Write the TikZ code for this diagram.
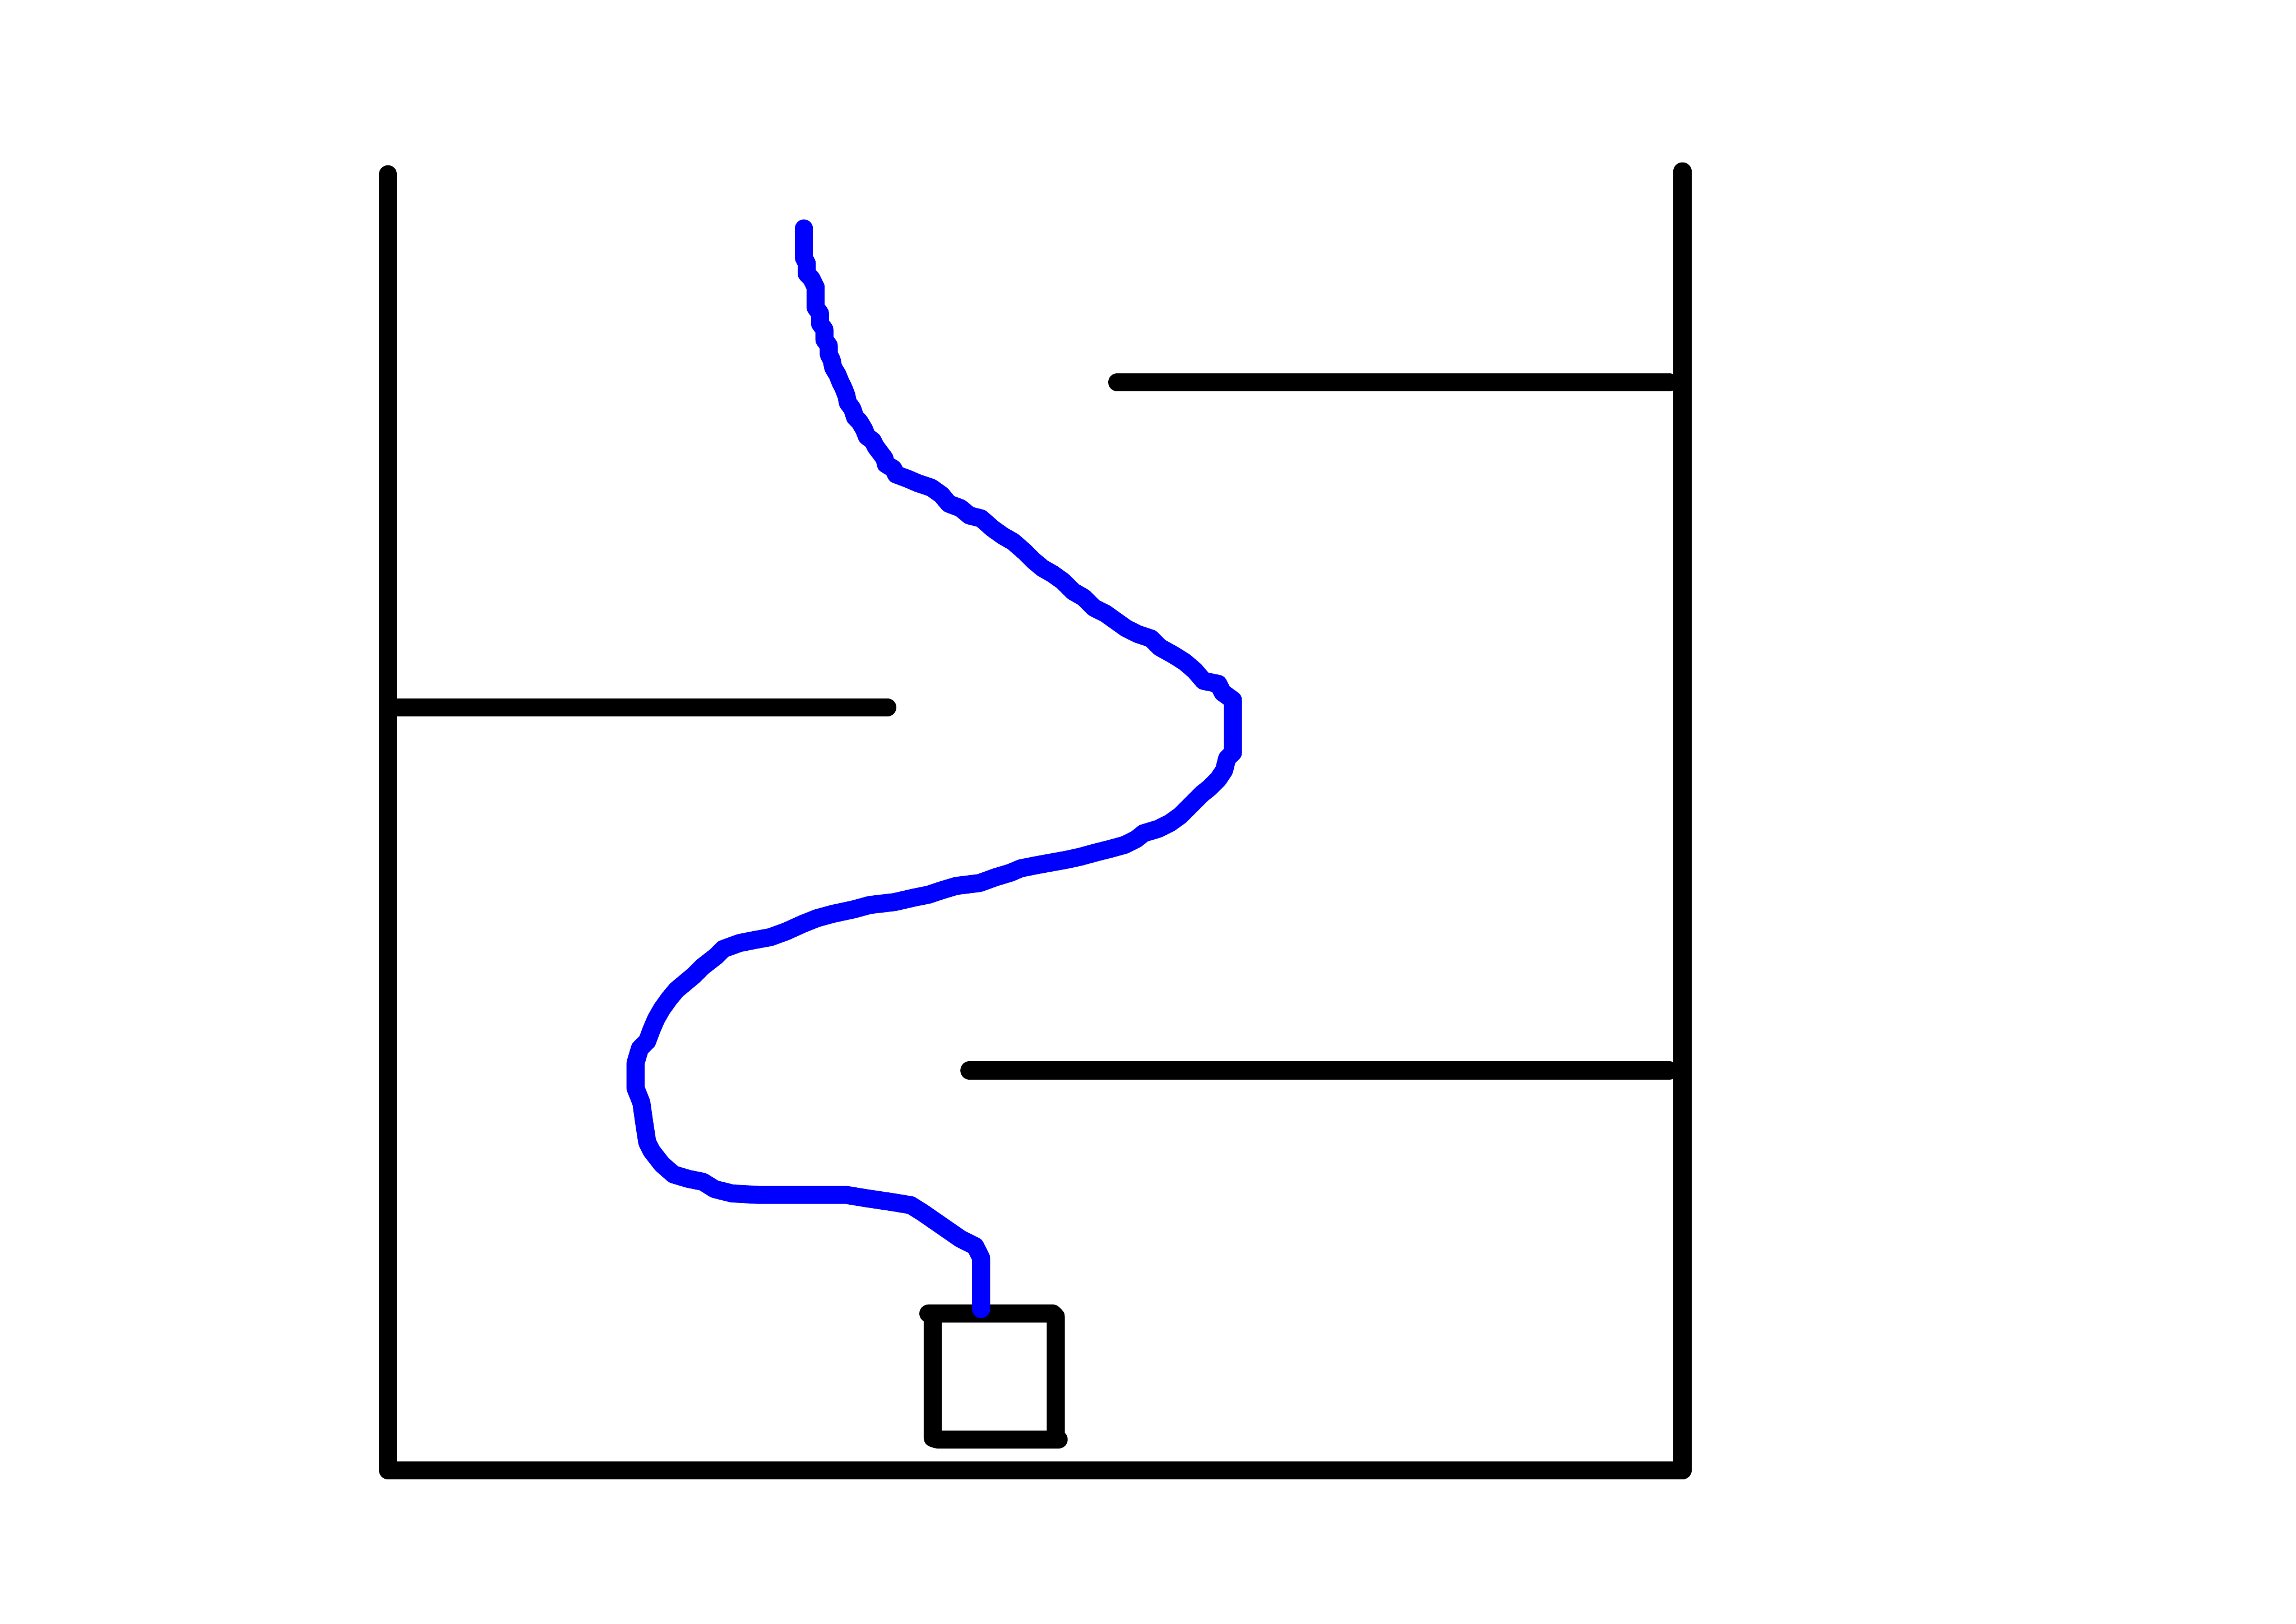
\documentclass[tikz,border=0pt]{standalone}
\usepackage{tikz}
\usepackage{xcolor}
\definecolor{routeblue}{RGB}{0,0,255}

\begin{document}
\begin{tikzpicture}[
        x=0.01cm, y=-0.01cm,
        wall/.style={draw=black, line width=3.5pt, line cap=round, line join=round},
        route/.style={draw=routeblue, line width=3.5pt, line cap=round, line join=round}
    ]
        \useasboundingbox (0,0) rectangle (1568,1109);

        % Outer walls
        \draw[wall] (265,119) -- (265,1004) -- (1149,1004);
        \draw[wall] (1149,117) -- (1149,1004);

        % Shelves
        \draw[wall] (763,261) -- (1140,261);
        \draw[wall] (268,483) -- (606,483);
        \draw[wall] (662,731) -- (1140,731);

        % Goal box
        \draw[wall] (634,897) -- (719,897) -- (721,899) -- (721,982);
        \draw[wall] (637,897) -- (637,982) -- (640,983) -- (723,983);

        % Path
        \draw[route] (549,156) -- (549,176) -- (551,180) -- (551,187) -- (554,190)
            -- (557,196) -- (557,210) -- (560,214) -- (560,221) -- (563,225)
            -- (563,232) -- (566,236) -- (566,242) -- (568,246) -- (569,251)
            -- (572,256) -- (574,261) -- (576,265) -- (578,270) -- (579,275)
            -- (582,279) -- (584,285) -- (587,288) -- (590,293) -- (592,298)
            -- (596,301) -- (598,305) -- (601,309) -- (604,313) -- (605,317)
            -- (610,320) -- (612,324) -- (620,327) -- (627,330) -- (636,333)
            -- (643,338) -- (648,344) -- (656,347) -- (662,352) -- (670,354)
            -- (678,361) -- (685,366) -- (692,370) -- (700,377) -- (706,383)
            -- (712,388) -- (719,392) -- (726,397) -- (733,404) -- (740,408)
            -- (747,415) -- (755,419) -- (762,424) -- (769,429) -- (777,433)
            -- (786,436) -- (792,442) -- (801,447) -- (809,452) -- (816,458)
            -- (822,465) -- (832,467) -- (835,473) -- (842,478) -- (842,514)
            -- (838,518) -- (836,526) -- (832,532) -- (826,538) -- (821,542)
            -- (814,549) -- (806,557) -- (799,562) -- (791,566) -- (781,569)
            -- (776,573) -- (768,577) -- (757,580) -- (749,582) -- (738,585)
            -- (729,587) -- (718,589) -- (707,591) -- (697,593) -- (690,596)
            -- (680,599) -- (669,603) -- (653,605) -- (643,608) -- (634,611)
            -- (624,613) -- (611,616) -- (594,618) -- (583,621) -- (569,624)
            -- (558,627) -- (548,631) -- (537,636) -- (526,640) -- (515,642)
            -- (505,644) -- (494,648) -- (489,653) -- (480,660) -- (474,666)
            -- (468,671) -- (462,676) -- (457,682) -- (452,689) -- (448,696)
            -- (445,703) -- (442,711) -- (437,716) -- (434,726) -- (434,743)
            -- (438,753) -- (440,767) -- (442,780) -- (445,786) -- (452,795)
            -- (460,802) -- (470,805) -- (480,807) -- (488,812) -- (500,815)
            -- (518,816) -- (578,816) -- (590,818) -- (610,821) -- (622,823)
            -- (630,828) -- (643,837) -- (656,846) -- (666,851) -- (670,859)
            -- (670,894);

    \end{tikzpicture}
\end{document}
